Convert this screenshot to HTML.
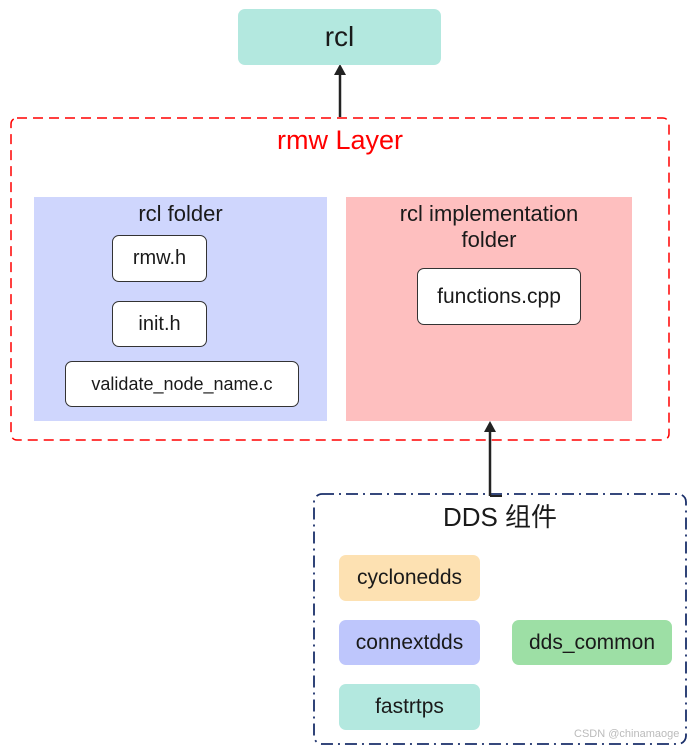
<!DOCTYPE html>
<html><head><meta charset="utf-8"><style>
body{margin:0;width:694px;height:752px;background:#fff;position:relative;overflow:hidden;font-family:"Liberation Sans","Noto Sans CJK SC",sans-serif;color:#1a1a1a}
.b{position:absolute;display:flex;align-items:center;justify-content:center;box-sizing:border-box;text-align:center}
.w{background:#fff;border:1px solid #333;border-radius:7px;font-size:20px}
.t{position:absolute;text-align:center;font-size:22px;line-height:26px}
</style></head><body>
<svg width="694" height="752" style="position:absolute;left:0;top:0">
<rect x="11" y="118" width="658" height="322" rx="6" fill="none" stroke="#f00" stroke-width="1.5" stroke-dasharray="10,6"/>
<rect x="314" y="494" width="372" height="250" rx="8" fill="none" stroke="#1a2f6a" stroke-width="1.8" stroke-dasharray="12,5,2,5"/>
<rect x="34" y="197" width="293" height="224" fill="#cfd6fd"/>
<rect x="346" y="197" width="286" height="224" fill="#febfbf"/>
<line x1="340" y1="117" x2="340" y2="72" stroke="#222" stroke-width="2.5"/>
<polygon points="340,64 334,75 346,75" fill="#222"/>
<line x1="490" y1="496" x2="490" y2="429" stroke="#222" stroke-width="2.5"/>
<polyline points="490,496 502,496" stroke="#222" stroke-width="2" fill="none"/>
<polygon points="490,421 484,432 496,432" fill="#222"/>
</svg>
<div class="b" style="left:238px;top:9px;width:203px;height:56px;background:#b3e8df;border-radius:7px;font-size:28px">rcl</div>
<div class="t" style="left:200px;top:124px;width:280px;color:#f00;font-size:27px;line-height:32px">rmw Layer</div>
<div class="t" style="left:34px;top:201px;width:293px">rcl folder</div>
<div class="t" style="left:346px;top:201px;width:286px;line-height:26px">rcl implementation<br>folder</div>
<div class="b w" style="left:112px;top:235px;width:95px;height:47px">rmw.h</div>
<div class="b w" style="left:112px;top:301px;width:95px;height:46px">init.h</div>
<div class="b w" style="left:65px;top:361px;width:234px;height:46px;font-size:18px">validate_node_name.c</div>
<div class="b w" style="left:417px;top:268px;width:164px;height:57px;font-size:21px">functions.cpp</div>
<div class="t" style="left:380px;top:502px;width:240px;font-size:26px;line-height:30px">DDS 组件</div>
<div class="b" style="left:339px;top:555px;width:141px;height:46px;background:#fde1b2;border-radius:7px;font-size:21px">cyclonedds</div>
<div class="b" style="left:339px;top:620px;width:141px;height:45px;background:#bec6fc;border-radius:7px;font-size:21px">connextdds</div>
<div class="b" style="left:339px;top:684px;width:141px;height:46px;background:#b3e8df;border-radius:7px;font-size:21px">fastrtps</div>
<div class="b" style="left:512px;top:620px;width:160px;height:45px;background:#9ddfa5;border-radius:7px;font-size:21px">dds_common</div>
<div style="position:absolute;left:574px;top:728px;font-size:11px;color:#bbb">CSDN @chinamaoge</div>
</body></html>
